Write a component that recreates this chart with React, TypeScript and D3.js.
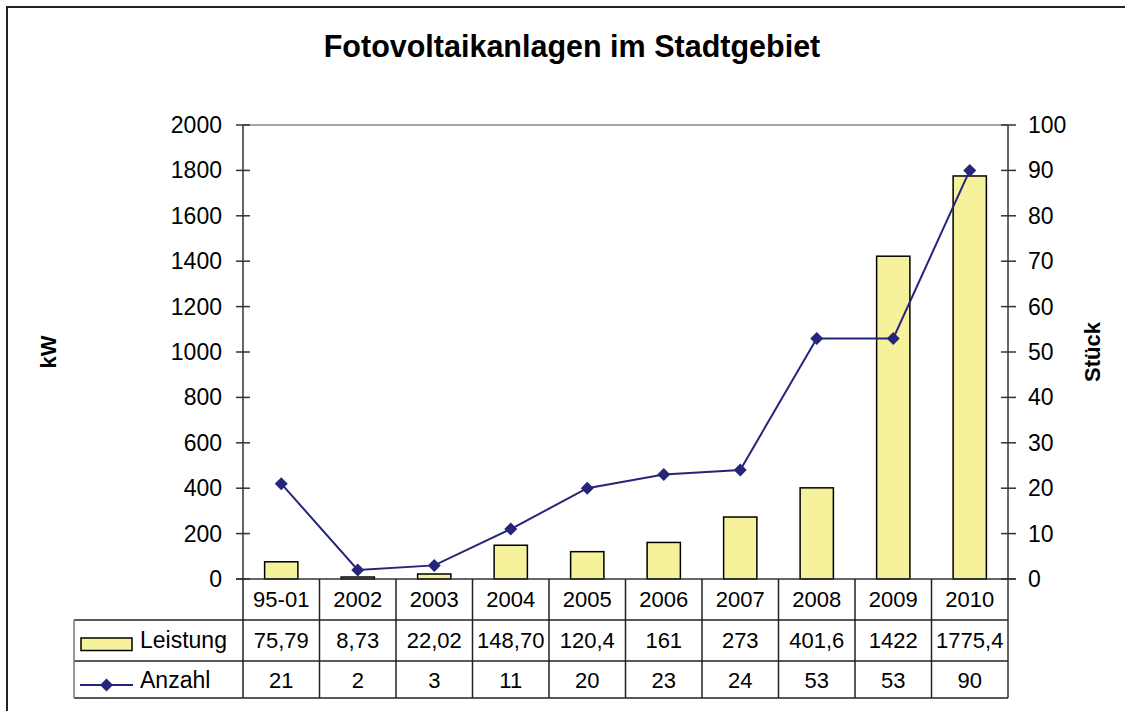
import * as d3 from 'd3'
import React from 'react'

const categories = ['95-01', '2002', '2003', '2004', '2005', '2006', '2007', '2008', '2009', '2010']
const leistung = [75.79, 8.73, 22.02, 148.7, 120.4, 161, 273, 401.6, 1422, 1775.4]
const leistungLabels = ['75,79', '8,73', '22,02', '148,70', '120,4', '161', '273', '401,6', '1422', '1775,4']
const anzahl = [21, 2, 3, 11, 20, 23, 24, 53, 53, 90]
const leftTicks = [0, 200, 400, 600, 800, 1000, 1200, 1400, 1600, 1800, 2000]
const rightTicks = [0, 10, 20, 30, 40, 50, 60, 70, 80, 90, 100]

const W = 1125
const H = 711
const font = 'Arial, "Liberation Sans", Helvetica, sans-serif'
const barFill = '#f6f29c'
const lineColor = '#25257a'
const axisColor = '#333'

const plot = { left: 243, right: 1008, top: 125, bottom: 579 }
const rows = { head: 620, r1: 661, r2: 698, labelLeft: 74 }

const Diamond = ({ x, y, r }) => (
  <path d={`M${x},${y - r}L${x + r},${y}L${x},${y + r}L${x - r},${y}Z`} fill={lineColor} />
)

const App = () => {
  const x = d3.scaleBand().domain(categories).range([plot.left, plot.right])
  const yL = d3.scaleLinear().domain([0, 2000]).range([plot.bottom, plot.top])
  const yR = d3.scaleLinear().domain([0, 100]).range([plot.bottom, plot.top])
  const bw = x.bandwidth() / 2.3
  const cx = (c) => x(c) + x.bandwidth() / 2

  const line = d3
    .line()
    .x((d, i) => cx(categories[i]))
    .y((d) => yR(d))

  return (
    <svg
      width={W}
      height={H}
      style={{ position: 'absolute', left: 0, top: 0, background: '#fff' }}
      fontFamily={font}
    >
      <rect x={7} y={7} width={W + 20} height={H + 20} fill="#fff" stroke="#222" strokeWidth={2} />

      <text x={572} y={57} textAnchor="middle" fontSize={30.5} fontWeight="bold">
        Fotovoltaikanlagen im Stadtgebiet
      </text>

      {/* plot area border (top) */}
      <line x1={plot.left} x2={plot.right} y1={plot.top} y2={plot.top} stroke="#888" strokeWidth={1.5} />

      {/* bars */}
      {leistung.map((v, i) => (
        <rect
          key={i}
          x={cx(categories[i]) - bw / 2}
          y={yL(v)}
          width={bw}
          height={plot.bottom - yL(v)}
          fill={barFill}
          stroke="#000"
          strokeWidth={1.5}
        />
      ))}

      {/* line series */}
      <path d={line(anzahl)} fill="none" stroke={lineColor} strokeWidth={2} />
      {anzahl.map((v, i) => (
        <Diamond key={i} x={cx(categories[i])} y={yR(v)} r={6.5} />
      ))}

      {/* left axis */}
      <line x1={plot.left} x2={plot.left} y1={plot.top} y2={plot.bottom} stroke={axisColor} strokeWidth={1.5} />
      {leftTicks.map((t) => (
        <g key={t}>
          <line x1={plot.left - 7} x2={plot.left + 7} y1={yL(t)} y2={yL(t)} stroke={axisColor} strokeWidth={1.5} />
          <text x={222} y={yL(t) + 8} textAnchor="end" fontSize={23}>
            {t}
          </text>
        </g>
      ))}

      {/* right axis */}
      <line x1={plot.right} x2={plot.right} y1={plot.top} y2={rows.r2} stroke={axisColor} strokeWidth={1.5} />
      {rightTicks.map((t) => (
        <g key={t}>
          <line x1={plot.right - 7} x2={plot.right + 8} y1={yR(t)} y2={yR(t)} stroke={axisColor} strokeWidth={1.5} />
          <text x={1028} y={yR(t) + 8} textAnchor="start" fontSize={23}>
            {t}
          </text>
        </g>
      ))}

      {/* axis titles */}
      <text transform="translate(56,352) rotate(-90)" textAnchor="middle" fontSize={22} fontWeight="bold">
        kW
      </text>
      <text transform="translate(1100,352) rotate(-90)" textAnchor="middle" fontSize={22} fontWeight="bold">
        Stück
      </text>

      {/* data table */}
      <line x1={plot.left - 7} x2={plot.right + 8} y1={plot.bottom} y2={plot.bottom} stroke={axisColor} strokeWidth={1.5} />
      {[rows.head, rows.r1, rows.r2].map((y) => (
        <line key={y} x1={rows.labelLeft} x2={plot.right} y1={y} y2={y} stroke="#222" strokeWidth={1.5} />
      ))}
      <line x1={rows.labelLeft} x2={rows.labelLeft} y1={rows.head} y2={rows.r2} stroke="#777" strokeWidth={1.5} />
      {categories.map((c) => (
        <line key={c} x1={x(c)} x2={x(c)} y1={plot.bottom} y2={rows.r2} stroke="#222" strokeWidth={1.5} />
      ))}
      {categories.map((c, i) => (
        <g key={c} fontSize={22} textAnchor="middle">
          <text x={cx(c)} y={606.5}>
            {c}
          </text>
          <text x={cx(c)} y={648}>
            {leistungLabels[i]}
          </text>
          <text x={cx(c)} y={688}>
            {anzahl[i]}
          </text>
        </g>
      ))}

      {/* legend keys */}
      <rect x={81} y={638} width={51} height={12.5} fill={barFill} stroke="#000" strokeWidth={1.5} />
      <text x={140} y={648} fontSize={23}>
        Leistung
      </text>
      <line x1={80} x2={133} y1={685} y2={685} stroke={lineColor} strokeWidth={2} />
      <Diamond x={106.5} y={685} r={6.5} />
      <text x={140} y={688} fontSize={23}>
        Anzahl
      </text>
    </svg>
  )
}

export default App
